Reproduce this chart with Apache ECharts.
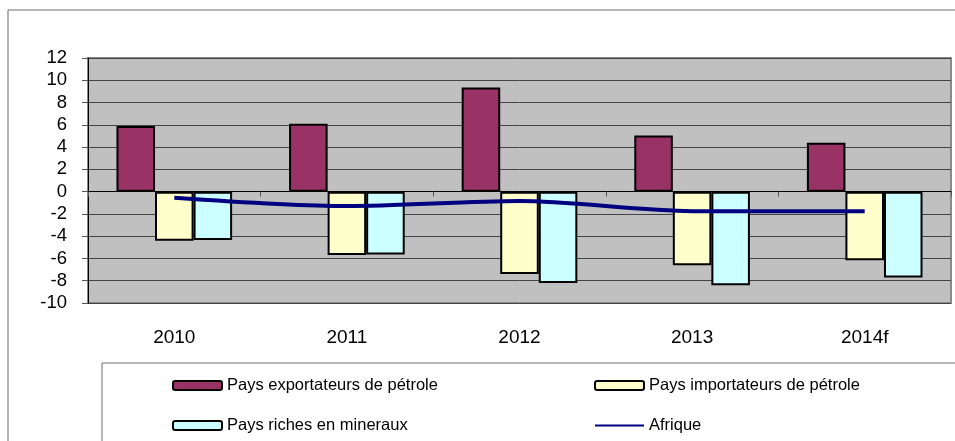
<!DOCTYPE html>
<html>
<head>
<meta charset="utf-8">
<script src="https://cdn.jsdelivr.net/npm/echarts@6/dist/echarts.min.js"></script>
<style>
  html, body { margin: 0; padding: 0; background: #fff; }
  #chart { width: 955px; height: 441px; }
</style>
</head>
<body>
<div id="chart"></div>
<script>
var chart = echarts.init(document.getElementById('chart'));

// données
var annees = ['2010', '2011', '2012', '2013', '2014f'];
var exportateurs = [5.9, 6.1, 9.35, 5.05, 4.4];
var importateurs = [-4.4, -5.7, -7.4, -6.6, -6.15];
var mineraux = [-4.35, -5.65, -8.2, -8.4, -7.7];
var afrique = [-0.55, -1.3, -0.85, -1.75, -1.75];

var police = 'Liberation Sans, Arial, sans-serif';

function legende(nom, gauche, haut) {
    return {
        data: [nom],
        left: gauche,
        top: haut,
        padding: 0,
        itemWidth: 49,
        itemHeight: 9,
        textStyle: { fontFamily: police, fontSize: 16.5, color: '#000' }
    };
}

var option = {
    animation: false,
    textStyle: { fontFamily: police },
    graphic: [
        { type: 'rect', shape: { x: 8, y: 10, width: 960, height: 450 },
          style: { fill: 'none', stroke: '#6e6e6e', lineWidth: 1 } },
        { type: 'rect', shape: { x: 102, y: 363, width: 900, height: 100 },
          style: { fill: 'none', stroke: '#6e6e6e', lineWidth: 1 } }
    ],
    legend: [
        legende('Pays exportateurs de pétrole', 172, 377),
        legende('Pays importateurs de pétrole', 594, 377),
        legende('Pays riches en mineraux', 172, 417),
        {
            data: [{ name: 'Afrique', itemStyle: { opacity: 0 } }],
            left: 594, top: 417, padding: 0,
            itemWidth: 49, itemHeight: 9,
            lineStyle: { width: 2 },
            textStyle: { fontFamily: police, fontSize: 16.5, color: '#000' }
        }
    ],
    grid: {
        left: 88, right: 4, top: 58, bottom: 138,
        show: true,
        backgroundColor: '#c0c0c0',
        borderColor: '#8a8a8a',
        borderWidth: 2
    },
    xAxis: [
        {
            type: 'category',
            data: annees,
            axisLine: { onZero: true, lineStyle: { color: '#000', width: 1 } },
            axisTick: { show: true, length: 5, lineStyle: { color: '#555' } },
            axisLabel: { show: false }
        },
        {
            type: 'category',
            data: annees,
            position: 'bottom',
            axisLine: { show: false, onZero: false },
            axisTick: { show: false },
            axisLabel: { fontSize: 19, color: '#000', margin: 25, fontFamily: police }
        }
    ],
    yAxis: {
        type: 'value',
        min: -10,
        max: 12,
        interval: 2,
        axisLine: { show: true, onZero: false, lineStyle: { color: '#000', width: 1 } },
        axisTick: { show: true, length: 6, lineStyle: { color: '#555' } },
        axisLabel: { fontSize: 18.5, color: '#000', margin: 21, fontFamily: police },
        splitLine: { lineStyle: { color: '#444', width: 1 } }
    },
    series: [
        {
            name: 'Pays exportateurs de pétrole',
            type: 'bar',
            data: exportateurs,
            barGap: '0%',
            barCategoryGap: '33%',
            itemStyle: { color: '#993366', borderColor: '#000', borderWidth: 2 }
        },
        {
            name: 'Pays importateurs de pétrole',
            type: 'bar',
            data: importateurs,
            itemStyle: { color: '#ffffcc', borderColor: '#000', borderWidth: 2 }
        },
        {
            name: 'Pays riches en mineraux',
            type: 'bar',
            data: mineraux,
            itemStyle: { color: '#ccffff', borderColor: '#000', borderWidth: 2 }
        },
        {
            name: 'Afrique',
            type: 'line',
            data: afrique,
            smooth: 0.3,
            symbol: 'none',
            lineStyle: { color: '#000080', width: 4 },
            itemStyle: { color: '#000080' },
            z: 5
        }
    ]
};

chart.setOption(option);
</script>
</body>
</html>
